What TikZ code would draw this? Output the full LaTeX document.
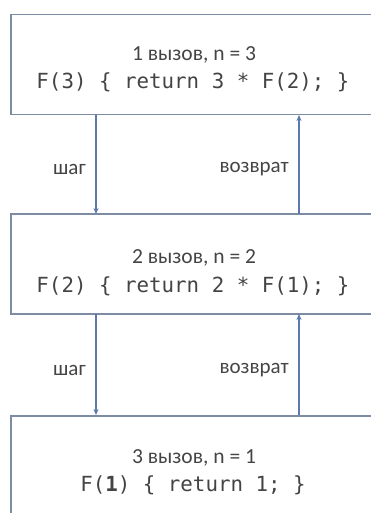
\documentclass[tikz,border=0pt]{standalone}
\usepackage{fontspec}
\setmainfont{Carlito}
\newfontfamily\codefont{DejaVu Sans Mono}
\usetikzlibrary{arrows.meta}
\definecolor{boxline}{HTML}{7D8CA3}
\definecolor{arrowc}{HTML}{5B79AE}
\definecolor{txt}{HTML}{444444}
\tikzset{
  callbox/.style={draw=boxline, line width=1.6pt, fill=white, minimum width=364pt, minimum height=100pt, inner sep=0pt},
  conn/.style={draw=arrowc, line width=1.2pt, -{Stealth[length=6pt,width=5pt]}},
  lbl/.style={text=txt, font=\fontsize{21}{24}\selectfont, inner sep=0pt},
  head/.style={text=txt, font=\fontsize{21.5}{24}\selectfont, inner sep=0pt},
  code/.style={text=txt, font=\codefont\fontsize{20.8}{24}\selectfont, inner sep=0pt}
}
\begin{document}
\begin{tikzpicture}[x=1pt,y=-1pt]
\useasboundingbox (0,0) rectangle (371,513);
\clip (0,0) rectangle (371,513);
\fill[white] (0,0) rectangle (371,513);
\node[callbox] (b1) at (193,64.5) {};
\node[callbox] (b2) at (193,264) {};
\node[callbox] (b3) at (193,466) {};
\node[head] (h1) at (194,55) {1 вызов, n = 3};
\node[code] (c1) at (193,82) {F(3) \{ return 3 * F(2); \}};
\node[head] (h2) at (194,258) {2 вызов, n = 2};
\node[code] (c2) at (193,286) {F(2) \{ return 2 * F(1); \}};
\node[head] (h3) at (194,458) {3 вызов, n = 1};
\node[code] (c3) at (193,485) {F(\textbf{1}) \{ return 1; \}};
\coordinate (s1a) at (96,115);
\coordinate (s1b) at (96,214);
\coordinate (r1a) at (299,214);
\coordinate (r1b) at (299,115);
\coordinate (s2a) at (96,314);
\coordinate (s2b) at (96,415);
\coordinate (r2a) at (299,415);
\coordinate (r2b) at (299,314);
\draw[conn] (s1a) -- (s1b);
\draw[conn] (r1a) -- (r1b);
\draw[conn] (s2a) -- (s2b);
\draw[conn] (r2a) -- (r2b);
\node[lbl, anchor=east] (l1) at (86,169) {шаг};
\node[lbl, anchor=east] (l2) at (289,169) {возврат};
\node[lbl, anchor=east] (l3) at (86,370) {шаг};
\node[lbl, anchor=east] (l4) at (289,370) {возврат};
\end{tikzpicture}
\end{document}
